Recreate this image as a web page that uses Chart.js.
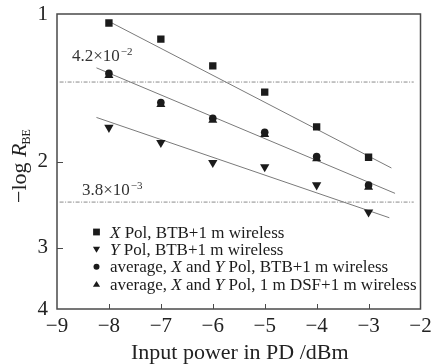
<!DOCTYPE html>
<html>
<head>
<meta charset="utf-8">
<script src="https://cdn.jsdelivr.net/npm/chart.js@4.4.1/dist/chart.umd.min.js"></script>
<style>
  html, body { margin: 0; padding: 0; background: #fff; }
  #wrap { width: 432px; height: 364px; position: relative; }
</style>
</head>
<body>
<div id="wrap"><canvas id="berChart"></canvas></div>
<script>
// input power in PD (dBm)
const powers = [-8, -7, -6, -5, -4, -3];

// -log(R_BE) per configuration
const xPolBtb = [1.043, 1.125, 1.276, 1.444, 1.7, 1.96];
const yPolBtb = [1.705, 1.83, 2.011, 2.052, 2.234, 2.537];
const avgBtb = [1.322, 1.516, 1.632, 1.743, 1.954, 2.234];
const avgDsf = [1.335, 1.53, 1.647, 1.76, 1.973, 2.255];

// fitted trend lines: [start, end]
const fitXPolX = [-7.95, -2.56];
const fitXPolY = [1.042, 2.062];
const fitAvgX = [-8.24, -2.49];
const fitAvgY = [1.288, 2.323];
const fitYPolX = [-8.24, -2.6];
const fitYPolY = [1.626, 2.605];

// FEC thresholds (BER)
const thresholdBer = [4.2e-2, 3.8e-3];
const thresholdMant = ["4.2", "3.8"];
const thresholdExp = ["\u22122", "\u22123"];
const thresholdSpan = [-8.95, -2.13];

const xTicks = [-9, -8, -7, -6, -5, -4, -3, -2];
const yTicks = [1, 2, 3, 4];

const legendItems = [
  { marker: "square", parts: [["X", true], [" Pol, BTB+1 m wireless", false]] },
  { marker: "down", parts: [["Y", true], [" Pol, BTB+1 m wireless", false]] },
  { marker: "circle", parts: [["average, ", false], ["X", true], [" and ", false], ["Y", true], [" Pol, BTB+1 m wireless", false]] },
  { marker: "up", parts: [["average, ", false], ["X", true], [" and ", false], ["Y", true], [" Pol, 1 m DSF+1 m wireless", false]] },
];

const serif = "'Liberation Serif', 'Times New Roman', serif";
const ink = "#1b1b1b";

function pts(xs, ys) {
  return xs.map((x, i) => ({ x, y: ys[i] }));
}

function minus(v) {
  return String(v).replace("-", "\u2212");
}

function markerSet(data, style, radius, rotation) {
  return {
    type: "scatter",
    data,
    pointStyle: style,
    pointRadius: radius,
    rotation: rotation || 0,
    backgroundColor: ink,
    borderColor: ink,
    borderWidth: 0,
    showLine: false,
  };
}

function fitLine(xs, ys, dash) {
  return {
    type: "line",
    data: pts(xs, ys),
    borderColor: dash ? "#8a8a8a" : "#7a7a7a",
    borderWidth: 1,
    borderDash: dash || [],
    pointRadius: 0,
    fill: false,
  };
}

function drawMarker(ctx, kind, x, y, r) {
  ctx.beginPath();
  if (kind === "square") {
    ctx.rect(x - r, y - r, 2 * r, 2 * r);
  } else if (kind === "circle") {
    ctx.arc(x, y, r, 0, Math.PI * 2);
  } else if (kind === "down") {
    ctx.moveTo(x - r * 1.05, y - r * 0.75);
    ctx.lineTo(x + r * 1.05, y - r * 0.75);
    ctx.lineTo(x, y + r * 0.95);
  } else {
    ctx.moveTo(x - r * 1.05, y + r * 0.75);
    ctx.lineTo(x + r * 1.05, y + r * 0.75);
    ctx.lineTo(x, y - r * 0.95);
  }
  ctx.closePath();
  ctx.fill();
}

function drawParts(ctx, parts, x, y, size) {
  parts.forEach(([text, italic]) => {
    ctx.font = `${italic ? "italic " : ""}${size}px ${serif}`;
    ctx.fillText(text, x, y);
    x += ctx.measureText(text).width;
  });
  return x;
}

const decorations = {
  id: "decorations",
  afterDraw(chart) {
    const { ctx, chartArea: a, scales } = chart;
    const xs = scales.x;
    const ys = scales.y;
    ctx.save();

    // frame
    ctx.strokeStyle = "#4a4a4a";
    ctx.lineWidth = 1.5;
    ctx.strokeRect(a.left, a.top, a.right - a.left, a.bottom - a.top);

    // inward tick marks
    ctx.lineWidth = 1;
    ctx.beginPath();
    xTicks.slice(1, -1).forEach((v) => {
      const px = Math.round(xs.getPixelForValue(v)) + 0.5;
      ctx.moveTo(px, a.bottom);
      ctx.lineTo(px, a.bottom - 5);
    });
    yTicks.slice(1, -1).forEach((v) => {
      const py = Math.round(ys.getPixelForValue(v)) + 0.5;
      ctx.moveTo(a.left, py);
      ctx.lineTo(a.left + 6, py);
    });
    ctx.stroke();

    // threshold labels, kept clear of the first column of markers
    const labelLeft = [15, 25];
    const labelLift = [21, 7];
    ctx.fillStyle = "#333";
    ctx.textBaseline = "alphabetic";
    thresholdBer.forEach((ber, i) => {
      const px = a.left + labelLeft[i];
      const py = ys.getPixelForValue(-Math.log10(ber)) - labelLift[i];
      ctx.font = `17px ${serif}`;
      const base = `${thresholdMant[i]}\u00d710`;
      ctx.fillText(base, px, py);
      const w = ctx.measureText(base).width;
      ctx.font = `11px ${serif}`;
      ctx.fillText(thresholdExp[i], px + w + 1, py - 6);
    });

    // legend
    ctx.fillStyle = ink;
    legendItems.forEach((item, i) => {
      const y = 232 + i * 17.4;
      drawMarker(ctx, item.marker, 96.5, y, item.marker === "circle" ? 3 : 3.4);
      drawParts(ctx, item.parts, 110, y + 5.5, 17);
    });

    // axis titles
    ctx.fillStyle = "#222";
    ctx.font = `22px ${serif}`;
    ctx.textAlign = "center";
    ctx.fillText("Input power in PD /dBm", (a.left + a.right) / 2 + 1, 359);

    ctx.textAlign = "left";
    ctx.translate(26, 203);
    ctx.rotate(-Math.PI / 2);
    const x = drawParts(ctx, [["\u2212log ", false], ["R", true]], 0, 0, 22);
    ctx.font = `12px ${serif}`;
    ctx.fillText("BE", x - 1, 4);
    ctx.restore();
  },
};

const thresholdSets = thresholdBer.map((ber) =>
  fitLine(thresholdSpan, thresholdSpan.map(() => -Math.log10(ber)), [4, 1.5, 1, 1.5]),
);

new Chart(document.getElementById("berChart"), {
  data: {
    datasets: [
      markerSet(pts(powers, avgBtb), "circle", 3.8),
      markerSet(pts(powers, avgDsf), "triangle", 5.2),
      markerSet(pts(powers, xPolBtb), "rect", 5.2),
      markerSet(pts(powers, yPolBtb), "triangle", 5.4, 180),
      fitLine(fitXPolX, fitXPolY),
      fitLine(fitAvgX, fitAvgY),
      fitLine(fitYPolX, fitYPolY),
      ...thresholdSets,
    ],
  },
  plugins: [decorations],
  options: {
    responsive: true,
    maintainAspectRatio: false,
    animation: false,
    events: [],
    layout: { padding: { top: 14, right: 11.5, left: 0, bottom: 0 } },
    plugins: { legend: { display: false }, tooltip: { enabled: false } },
    scales: {
      x: {
        type: "linear",
        min: -9,
        max: -2,
        afterBuildTicks: (scale) => {
          scale.ticks = xTicks.map((value) => ({ value }));
        },
        afterFit: (scale) => {
          scale.height = 55;
          scale.paddingLeft = 0;
          scale.paddingRight = 0;
        },
        grid: { display: false, drawTicks: false },
        border: { display: false },
        ticks: {
          padding: 5,
          color: "#222",
          font: { family: serif, size: 21 },
          callback: (v) => minus(v),
        },
      },
      y: {
        type: "logarithmic",
        min: 1,
        max: 4,
        reverse: true,
        afterBuildTicks: (scale) => {
          scale.ticks = yTicks.map((value) => ({ value }));
        },
        afterFit: (scale) => {
          scale.width = 57;
          scale.paddingTop = 0;
          scale.paddingBottom = 0;
        },
        grid: { display: false, drawTicks: false },
        border: { display: false },
        ticks: {
          padding: 9,
          color: "#222",
          font: { family: serif, size: 21 },
          callback: (v) => String(v),
        },
      },
    },
  },
});
</script>
</body>
</html>
